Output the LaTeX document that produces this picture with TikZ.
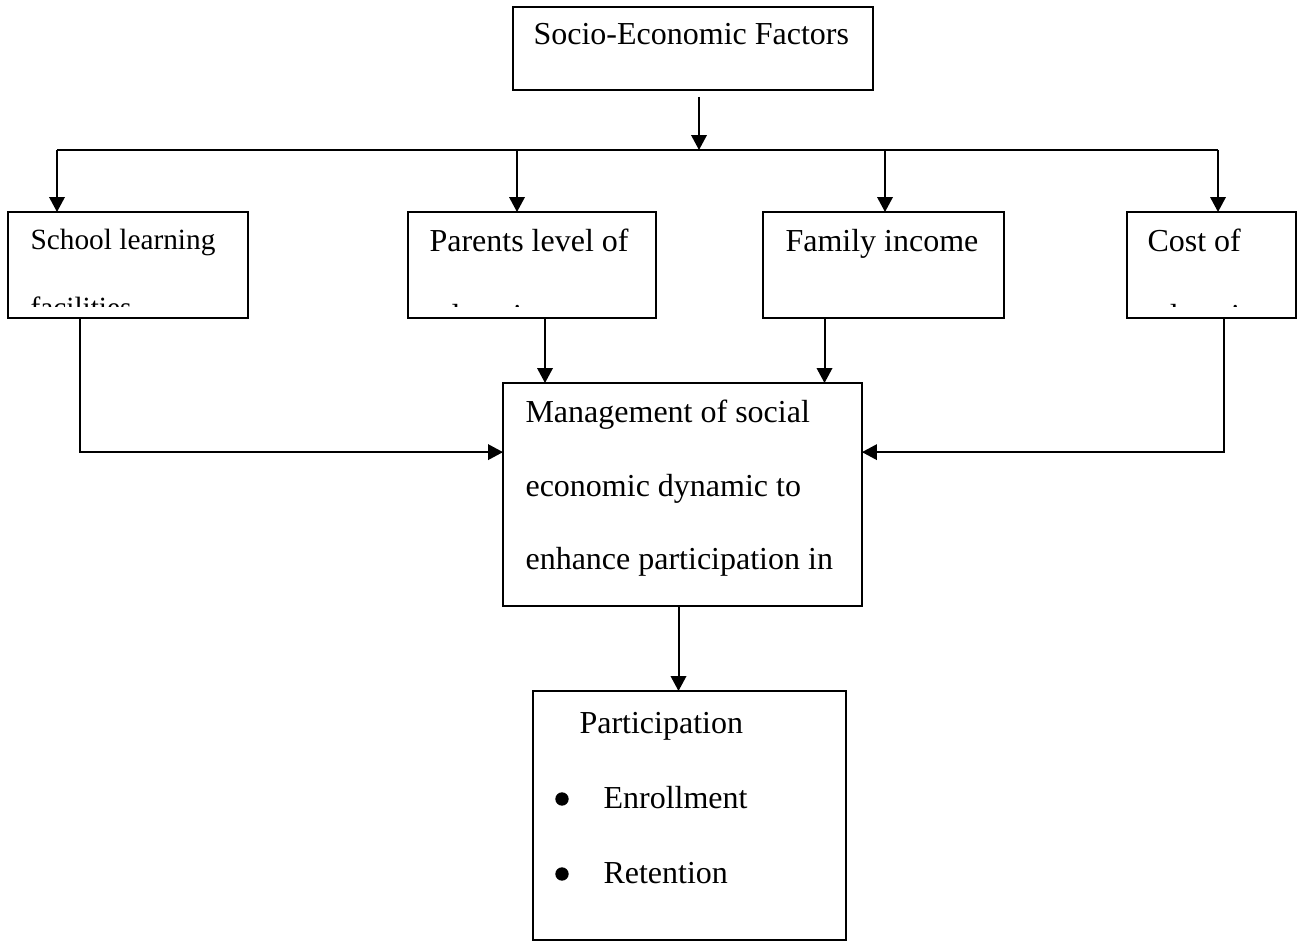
\documentclass[tikz,border=0pt]{standalone}
\usepackage{fontspec}
\setmainfont{Liberation Serif}
\usetikzlibrary{arrows.meta,calc,fit,positioning}
\tikzset{
	fbox/.style={draw, rectangle, line width=0.9pt, inner sep=0pt, outer sep=0pt},
	lbl/.style={anchor=base west, inner sep=0pt, font=\fontsize{12pt}{14pt}\selectfont},
	small lbl/.style={lbl, font=\fontsize{11pt}{13pt}\selectfont},
	dot/.style={circle, fill, inner sep=0pt, minimum size=5pt},
	ar/.style={-{Triangle[length=5.6pt,width=5.8pt]}, line width=0.75pt},
	% clip the lower part of a box, as the text spills out of it
	cut/.style={insert path={(#1.north west) rectangle ($(#1.south east)+(0,-11)$)}}
}

\begin{document}
\begin{tikzpicture}[x=0.375pt, y=-0.375pt]
	\useasboundingbox (0,0) rectangle (1301,943);
	% boxes
	\node[fbox, fit={(513,7) (873,90)}] (soc) {};
	\node[fbox, fit={(8,212) (248,318)}] (sch) {};
	\node[fbox, fit={(408,212) (656,318)}] (par) {};
	\node[fbox, fit={(763,212) (1004,318)}] (fam) {};
	\node[fbox, fit={(1127,212) (1296,318)}] (cost) {};
	\node[fbox, fit={(503,383) (862,606)}] (mgmt) {};
	\node[fbox, fit={(533,691) (846,940)}] (part) {};
	% texts
	\node[lbl] (socT) at (533,45) {Socio-Economic Factors};
	\begin{scope}
		\clip[cut=sch];
		\node[small lbl] (schT1) at (30,250) {School learning};
		\node[small lbl] (schT2) at (30,318) {facilities};
	\end{scope}
	\begin{scope}
		\clip[cut=par];
		\node[lbl] (parT1) at (429,252) {Parents level of};
		\node[lbl] (parT2) at (429,327) {education};
	\end{scope}
	\node[lbl] (famT) at (785,252) {Family income};
	\begin{scope}
		\clip[cut=cost];
		\node[lbl] (costT1) at (1147,252) {Cost of};
		\node[lbl] (costT2) at (1147,327) {education};
	\end{scope}
	\node[lbl] (mgmtT1) at (525,423) {Management of social};
	\node[lbl] (mgmtT2) at (525,497) {economic dynamic to};
	\node[lbl] (mgmtT3) at (525,570) {enhance participation in};
	\node[lbl] (partT) at (579,733) {Participation};
	\node[dot] (b1) at (562,799) {};
	\node[lbl] (enrT) at (603,808) {Enrollment};
	\node[dot] (b2) at (562,874) {};
	\node[lbl] (retT) at (603,883) {Retention};
	% bus
	\coordinate (hub) at (699,150);
	\coordinate (d1) at (57,150);
	\coordinate (d2) at (517,150);
	\coordinate (d3) at (885,150);
	\coordinate (d4) at (1218,150);
	\draw[line width=0.75pt] (d1) -- (d4);
	\draw[ar] (soc.south -| hub) ++(0,7) -- (hub);
	\foreach \d/\b in {d1/sch, d2/par, d3/fam, d4/cost}
		\draw[ar] (\d) -- (\d |- \b.north);
	% into the management box
	\draw[ar] ($(sch.south)+(-48,0)$) |- ($(mgmt.north west)!0.31!(mgmt.south west)$);
	\draw[ar] ($(cost.south)+(12,0)$) |- ($(mgmt.north east)!0.31!(mgmt.south east)$);
	\draw[ar] ($(par.south)+(13,0)$) coordinate (p2) -- (p2 |- mgmt.north);
	\draw[ar] ($(fam.south)+(-59,0)$) coordinate (p3) -- (p3 |- mgmt.north);
	\draw[ar] ($(mgmt.south)+(-4,0)$) coordinate (m1) -- (m1 |- part.north);
\end{tikzpicture}
\end{document}
